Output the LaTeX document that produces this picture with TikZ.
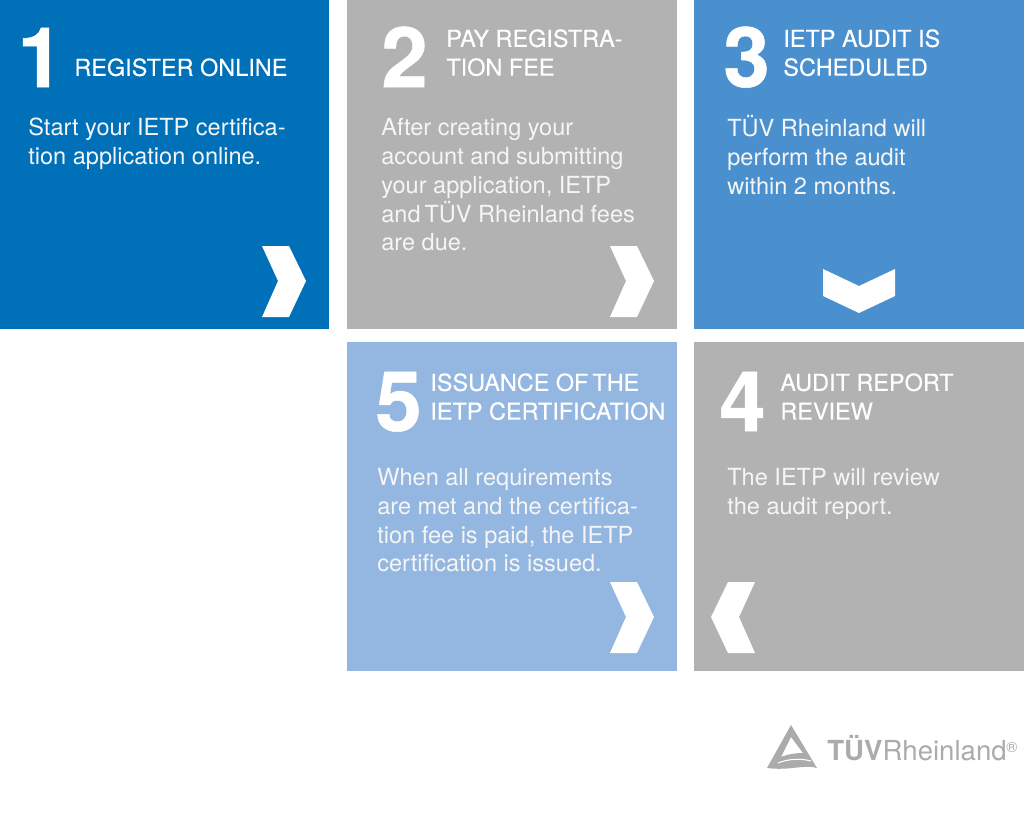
\documentclass[tikz,border=0pt]{standalone}
\usepackage{fontspec}
\setmainfont{TeX Gyre Heros}
\definecolor{darkblue}{HTML}{0070B9}
\definecolor{midblue}{HTML}{4A90CF}
\definecolor{lightblue}{HTML}{94B7E1}
\definecolor{boxgray}{HTML}{B2B2B2}
\definecolor{logogray}{HTML}{ABABAB}
\tikzset{
    tile/.style={anchor=north west, inner sep=0, minimum width=330*0.02cm, minimum height=329*0.02cm},
    bignum/.style={anchor=base west, inner sep=0, text=white, font=\fontsize{47.5}{47.5}\selectfont\bfseries\addfontfeature{FakeBold=0.6}},
    heading/.style={anchor=north west, inner sep=0, align=left, text=white, font=\fontsize{13.35}{16.4}\selectfont\addfontfeature{FakeBold=0.2}},
    body/.style={anchor=north west, inner sep=0, align=left, text=white!92!gray, font=\fontsize{13.4}{16.4}\selectfont},
    chevron/.style={fill=white}
}

\begin{document}
\begin{tikzpicture}[x=0.02cm, y=-0.02cm]
    \useasboundingbox (0, 0) rectangle (1024, 818);

    % tiles
    \node[tile, fill=darkblue] (tileone) at (-1, 0) {};
    \node[tile, fill=boxgray] (tiletwo) at (347, 0) {};
    \node[tile, fill=midblue] (tilethree) at (694, 0) {};
    \node[tile, fill=lightblue] (tilefive) at (347, 342) {};
    \node[tile, fill=boxgray] (tilefour) at (694, 342) {};

    % tile 1
    \node[bignum] (numone) at (17, 87) {1};
    \node[heading] (headone) at (74, 58) {REGISTER ONLINE};
    \node[body] (bodyone) at (28, 118) {Start your IETP certifica-\\tion application online.};
    \fill[chevron] (262, 246) -- (289, 246) -- (306, 281) -- (289, 317) -- (262, 317) -- (278, 281) -- cycle;

    % tile 2
    \node[bignum] (numtwo) at (381, 87) {2};
    \node[heading] (headtwo) at (446, 29) {PAY REGISTRA-\\TION FEE};
    \node[body] (bodytwo) at (381, 118) {After creating your\\account and submitting\\your application, IETP\\and\,TÜV Rheinland fees\\are due.};
    \fill[chevron] (610, 246) -- (637, 246) -- (654, 281) -- (637, 317) -- (610, 317) -- (626, 281) -- cycle;

    % tile 3
    \node[bignum] (numthree) at (723, 87) {3};
    \node[heading] (headthree) at (783, 29) {IETP AUDIT IS\\SCHEDULED};
    \node[body] (bodythree) at (727, 115) {TÜV Rheinland will\\perform the audit\\within 2 months.};
    \fill[chevron] (823, 269) -- (859, 286) -- (895, 269) -- (895, 296) -- (859, 313) -- (823, 296) -- cycle;

    % tile 4
    \node[bignum] (numfour) at (719, 431) {4};
    \node[heading] (headfour) at (780, 373) {AUDIT REPORT\\REVIEW};
    \node[body] (bodyfour) at (727, 468) {The IETP will review\\the audit report.};
    \fill[chevron] (755, 582) -- (728, 582) -- (711, 617) -- (728, 653) -- (755, 653) -- (739, 617) -- cycle;

    % tile 5
    \node[bignum] (numfive) at (375, 431) {5};
    \node[heading] (headfive) at (430, 373) {ISSUANCE OF\,THE\\IETP CERTIFICATION};
    \node[body] (bodyfive) at (377, 468) {When all requirements\\are met and the certifica-\\tion fee is paid, the IETP\\certification is issued.};
    \fill[chevron] (610, 582) -- (637, 582) -- (654, 617) -- (637, 653) -- (610, 653) -- (626, 617) -- cycle;

    % logo
    \fill[logogray, even odd rule] (791, 725) -- (817, 768) .. controls (805, 764) and (790, 771) .. (767, 768) -- cycle
        (791, 737) -- (803, 753) .. controls (796, 753) and (788, 754) .. (781, 757) -- cycle;
    \draw[white, line width=0.6pt] (778, 763) .. controls (788, 759) and (800, 758) .. (811, 761);
    \node[anchor=base west, inner sep=0, text=logogray, font=\fontsize{15.7}{15.7}\selectfont] (logotext) at (827, 760) {\textbf{TÜV}Rheinland};
    \node[anchor=base west, inner sep=0, text=logogray, font=\fontsize{8.5}{8.5}\selectfont] (logomark) at (1006, 752) {®};
\end{tikzpicture}
\end{document}
